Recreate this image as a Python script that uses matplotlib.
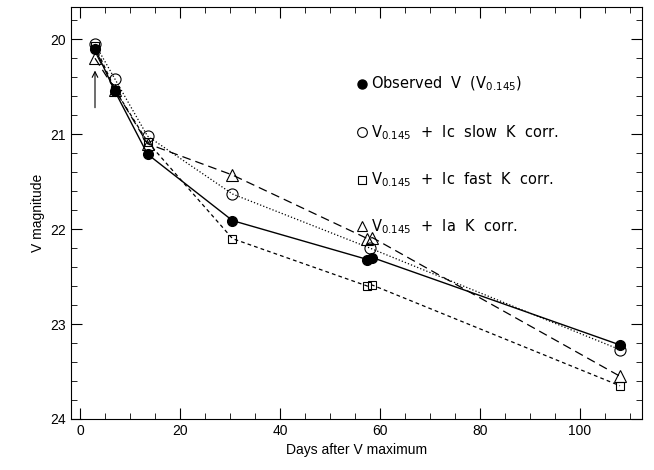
import matplotlib
matplotlib.use('Agg')
import matplotlib.pyplot as plt
from matplotlib.ticker import MultipleLocator

plt.rcParams['font.family'] = ['Liberation Sans', 'DejaVu Sans']

# observed V
obs_t = [3.0, 7.0, 13.5, 30.5, 57.5, 58.5, 108.0]
obs_v = [20.10, 20.55, 21.21, 21.91, 22.32, 22.30, 23.22]
# + Ic slow K corr.
slow_t = [3.0, 7.0, 13.5, 30.5, 58.0, 108.0]
slow_v = [20.05, 20.42, 21.02, 21.63, 22.20, 23.27]
# + Ic fast K corr.
fast_t = [3.0, 7.0, 13.5, 30.5, 57.5, 58.5, 108.0]
fast_v = [20.07, 20.53, 21.08, 22.10, 22.60, 22.59, 23.65]
# + Ia K corr.
ia_t = [3.0, 7.0, 13.5, 30.5, 57.5, 58.5, 108.0]
ia_v = [20.20, 20.53, 21.10, 21.43, 22.10, 22.09, 23.55]

labels = [r'Observed  V  (V$_{0.145}$)',
          r'V$_{0.145}$  +  Ic  slow  K  corr.',
          r'V$_{0.145}$  +  Ic  fast  K  corr.',
          r'V$_{0.145}$  +  Ia  K  corr.']

fig = plt.figure(figsize=(6.54, 4.70), dpi=100)
ax = fig.add_axes([71/654, 51/470, 571/654, 412/470])

ax.plot(obs_t, obs_v, '-', color='k', lw=1.0, marker='o', ms=7, mfc='k', mec='k')
ax.plot(slow_t, slow_v, ':', color='k', lw=0.9, marker='o', ms=8, mfc='none', mec='k', mew=0.8)
ax.plot(fast_t, fast_v, '--', color='k', lw=0.9, dashes=(3, 2.5), marker='s', ms=6, mfc='none', mec='k', mew=0.8)
ax.plot(ia_t, ia_v, '--', color='k', lw=0.9, dashes=(7, 4), marker='^', ms=8, mfc='none', mec='k', mew=0.8)

# arrow marking V maximum
ax.annotate('', xy=(3.0, 20.3), xytext=(3.0, 20.75),
            arrowprops=dict(arrowstyle='->', color='k', lw=0.8))

# legend drawn by hand
leg_y = [20.47, 20.98, 21.48, 21.97]
styles = [dict(marker='o', ms=6.5, mfc='k', mec='k'),
          dict(marker='o', ms=7, mfc='none', mec='k', mew=0.8),
          dict(marker='s', ms=5.5, mfc='none', mec='k', mew=0.8),
          dict(marker='^', ms=7, mfc='none', mec='k', mew=0.8)]
for y, lab, st in zip(leg_y, labels, styles):
    ax.plot([56.5], [y], ls='none', color='k', **st)
    ax.text(58.2, y, lab, fontsize=10.5, va='center', ha='left',
            family=['DejaVu Sans'])

ax.set_xlim(-1.8, 112.4)
ax.set_ylim(24.0, 19.66)
ax.xaxis.set_major_locator(MultipleLocator(20))
ax.xaxis.set_minor_locator(MultipleLocator(5))
ax.yaxis.set_major_locator(MultipleLocator(1))
ax.yaxis.set_minor_locator(MultipleLocator(0.2))
ax.tick_params(which='both', direction='in', top=True, right=True, labelsize=10)
ax.tick_params(which='major', length=8)
ax.tick_params(which='minor', length=4)
ax.set_xlabel('Days after V maximum', fontsize=10)
ax.set_ylabel('V magnitude', fontsize=10)

fig.savefig('out.png', dpi=100)
